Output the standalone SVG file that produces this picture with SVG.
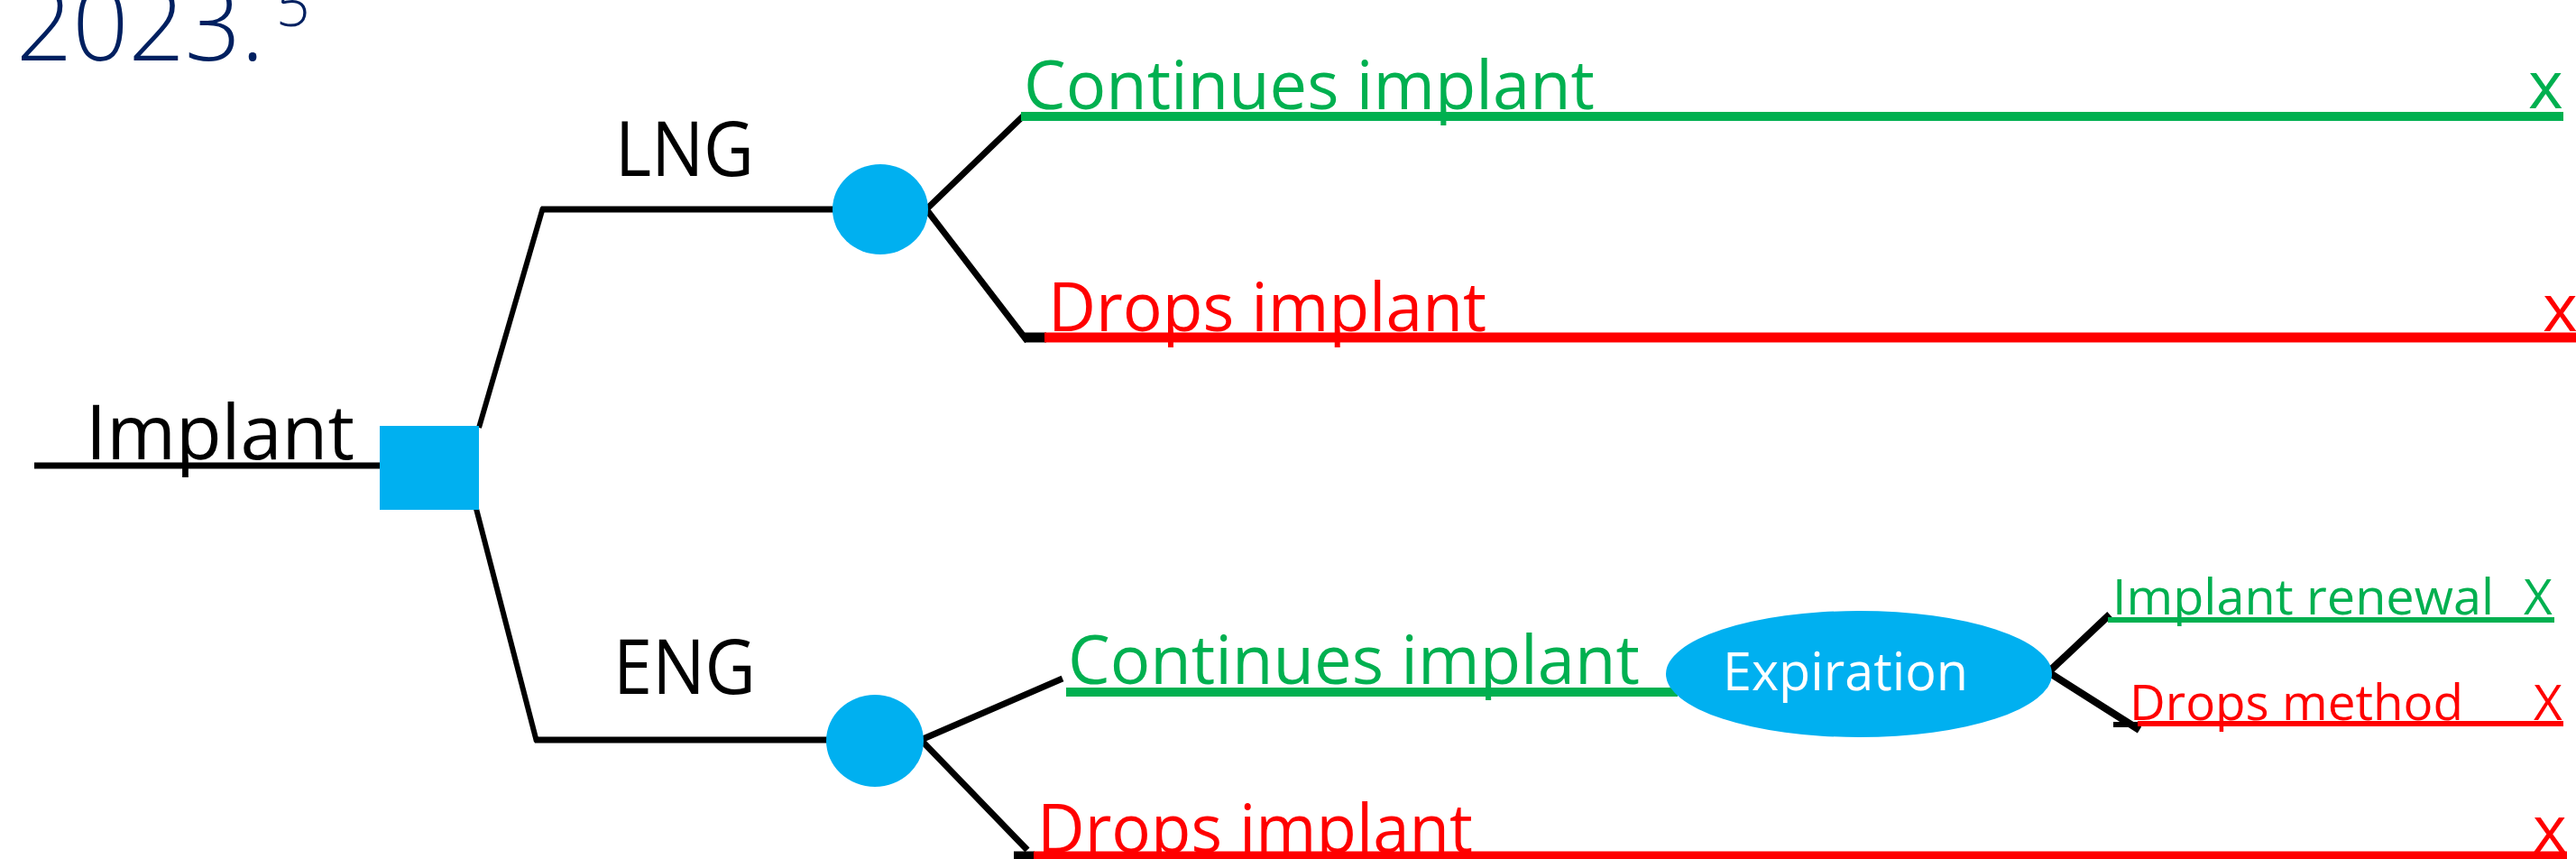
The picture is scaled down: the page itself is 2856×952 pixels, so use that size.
<svg xmlns="http://www.w3.org/2000/svg" width="2856" height="952" viewBox="0 0 2856 952">
<style>
text{font-family:"Open Sans","Liberation Sans",sans-serif;}
.blk{fill:#000000;}
.grn{fill:#00B050;}
.red{fill:#FF0000;}
.wht{fill:#FFFFFF;}
.node{fill:#00B0F0;}
.conn{stroke:#000000;fill:none;stroke-linecap:butt;}
.gl{stroke:#00B050;fill:none;}
.rl{stroke:#FF0000;fill:none;}
</style>
<rect width="2856" height="952" fill="#FFFFFF"/>
<g id="title">
<text x="18" y="67" font-size="112" font-weight="300" fill="#002060" textLength="275" lengthAdjust="spacingAndGlyphs">2023.</text>
<text x="306" y="29" font-size="66" font-weight="300" fill="#002060">5</text>
</g>
<g id="connectors">
<line class="conn" x1="38" y1="516" x2="423" y2="516" stroke-width="7"/>
<line class="conn" x1="531" y1="474" x2="602" y2="230" stroke-width="6"/>
<line class="conn" x1="600" y1="232" x2="924" y2="232" stroke-width="7"/>
<line class="conn" x1="527" y1="560" x2="595" y2="822" stroke-width="6"/>
<line class="conn" x1="593" y1="820" x2="920" y2="820" stroke-width="7"/>
<polyline class="conn" points="1135,128 1027,232 1139,378" stroke-width="7"/>
<line class="conn" x1="1136" y1="374" x2="1160" y2="374" stroke-width="11"/>
<polyline class="conn" points="1178,752 1021,820 1139,942" stroke-width="7"/>
<line class="conn" x1="1124" y1="948" x2="1147" y2="948" stroke-width="9"/>
<polyline class="conn" points="2339,681 2271,745 2372,809" stroke-width="8"/>
<line class="conn" x1="2343" y1="803" x2="2372" y2="803" stroke-width="6"/>
<line class="gl" x1="1132" y1="129" x2="2842" y2="129" stroke-width="10"/>
<line class="rl" x1="1158" y1="374" x2="2856" y2="374" stroke-width="11"/>
<line class="gl" x1="1182" y1="767" x2="1860" y2="767" stroke-width="10"/>
<line class="rl" x1="1146" y1="948" x2="2846" y2="948" stroke-width="9"/>
<line class="gl" x1="2337" y1="687" x2="2832" y2="687" stroke-width="6"/>
<line class="rl" x1="2370" y1="802" x2="2842" y2="802" stroke-width="6"/>
</g>
<g id="implant">
<text class="blk" x="95" y="509" font-size="84" textLength="298" lengthAdjust="spacingAndGlyphs">Implant</text>
</g>
<g id="decision">
<rect class="node" x="421" y="472" width="110" height="93"/>
</g>
<g id="lng">
<text class="blk" x="682" y="195" font-size="85" textLength="154" lengthAdjust="spacingAndGlyphs">LNG</text>
<ellipse class="node" cx="976" cy="232" rx="53" ry="50"/>
</g>
<g id="eng">
<text class="blk" x="680" y="769" font-size="85" textLength="158" lengthAdjust="spacingAndGlyphs">ENG</text>
<ellipse class="node" cx="970" cy="821" rx="54" ry="51"/>
</g>
<g id="lng-continues">
<text class="grn" x="1135" y="121" font-size="75" textLength="633" lengthAdjust="spacingAndGlyphs">Continues implant</text>
<text class="grn" x="2803" y="120" font-size="74">x</text>
</g>
<g id="lng-drops">
<text class="red" x="1162" y="367" font-size="75" textLength="486" lengthAdjust="spacingAndGlyphs">Drops implant</text>
<text class="red" x="2819" y="367" font-size="74">x</text>
</g>
<g id="eng-continues">
<text class="grn" x="1184" y="758" font-size="75" textLength="634" lengthAdjust="spacingAndGlyphs">Continues implant</text>
</g>
<g id="expiration">
<ellipse class="node" cx="2061" cy="747" rx="214" ry="70"/>
<text class="wht" x="1910" y="765" font-size="59" textLength="272" lengthAdjust="spacingAndGlyphs">Expiration</text>
</g>
<g id="renewal">
<text class="grn" x="2342" y="681" font-size="55" textLength="423" lengthAdjust="spacingAndGlyphs">Implant renewal</text>
<text class="grn" x="2798" y="681" font-size="55">X</text>
</g>
<g id="drops-method">
<text class="red" x="2361" y="798" font-size="55" textLength="370" lengthAdjust="spacingAndGlyphs">Drops method</text>
<text class="red" x="2809" y="798" font-size="55">X</text>
</g>
<g id="eng-drops">
<text class="red" x="1150" y="945" font-size="75" textLength="483" lengthAdjust="spacingAndGlyphs">Drops implant</text>
<text class="red" x="2808" y="944" font-size="72">x</text>
</g>
</svg>
